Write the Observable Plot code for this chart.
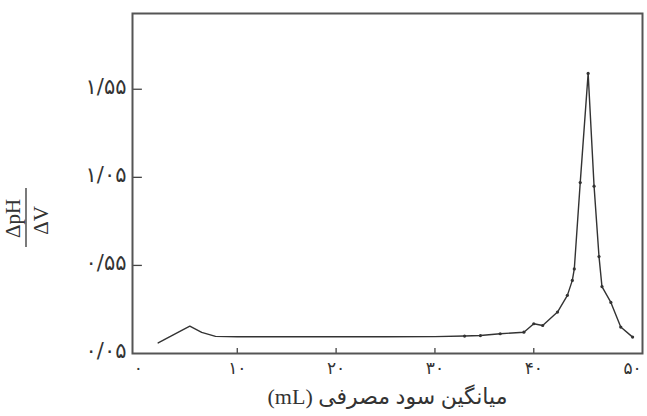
<!DOCTYPE html>
<html><head><meta charset="utf-8">
<script src="https://cdn.jsdelivr.net/npm/d3@7"></script>
<script src="https://cdn.jsdelivr.net/npm/@observablehq/plot@0.6"></script>
<style>body{margin:0;background:#fff}</style>
</head><body><div id="chart"></div>
<script>
const volume = [2.0, 3.0, 4.0, 5.2, 6.4, 7.8, 10, 15, 20, 25, 30, 33, 34.6, 36.6, 39.0, 40.0, 40.9, 42.4, 43.4, 43.9, 44.1, 44.7, 45.5, 46.1, 46.6, 46.9, 47.8, 48.8, 50.0];
const dpHdV = [0.11, 0.14, 0.17, 0.205, 0.17, 0.147, 0.145, 0.145, 0.145, 0.145, 0.146, 0.149, 0.152, 0.162, 0.171, 0.219, 0.209, 0.285, 0.38, 0.465, 0.53, 1.02, 1.64, 1.00, 0.60, 0.43, 0.34, 0.20, 0.143];
const xTicks = [0, 10, 20, 30, 40, 50];
const xTickLabels = ["۰", "۱۰", "۲۰", "۳۰", "۴۰", "۵۰"];
const yTicks = [0.05, 0.55, 1.05, 1.55];
const yTickLabels = ["۰/۰۵", "۰/۵۵", "۱/۰۵", "۱/۵۵"];
const xTitle = "میانگین سود مصرفی (mL)";
const yNum = "ΔpH";
const yDen = "ΔV";

const data = volume.map((v, i) => ({v, d: dpHdV[i]}));
const ink = "#333";

const chart = Plot.plot({
  width: 647, height: 416,
  marginLeft: 132, marginRight: 5, marginTop: 13, marginBottom: 63,
  x: {domain: [-0.6, 51], axis: null},
  y: {domain: [0.05, 1.98], axis: null},
  style: {background: "#fff", color: ink},
  marks: [
    Plot.line(data, {x: "v", y: "d", stroke: ink, strokeWidth: 1.4}),
    Plot.dot(data.filter(d => d.v >= 33), {x: "v", y: "d", r: 1.6, fill: ink}),
    Plot.ruleX(xTicks.slice(1, -1), {y1: 0.05, y2: 0.078, stroke: "#444", strokeWidth: 1.3}),
    Plot.ruleY(yTicks.slice(1), {x1: -0.6, x2: 0.4, stroke: "#444", strokeWidth: 1.3}),
    Plot.text(xTicks, {x: d => d, frameAnchor: "bottom", dy: 20, text: (d, i) => xTickLabels[i],
      fontSize: 17, fontFamily: "DejaVu Sans", fill: ink, letterSpacing: 3}),
    Plot.text(yTicks, {y: d => d, frameAnchor: "left", dx: -6, dy: -2, textAnchor: "end", text: (d, i) => yTickLabels[i],
      fontSize: 21, fontFamily: "DejaVu Sans", fill: ink, letterSpacing: 3}),
    Plot.frame({stroke: "#555", strokeWidth: 2}),
    Plot.text([xTitle], {frameAnchor: "bottom", dy: 50, text: d => "\u202B" + d + "\u202C",
      fontSize: 22, fontFamily: "Liberation Serif, DejaVu Sans", fill: ink}),
    Plot.text([yNum], {frameAnchor: "left", textAnchor: "middle", dx: -119, dy: 35, rotate: -90, text: d => d,
      fontSize: 21, fontFamily: "Liberation Serif", fill: ink}),
    Plot.text([yDen], {frameAnchor: "left", textAnchor: "middle", dx: -91, dy: 37, rotate: -90, text: d => d,
      fontSize: 21, fontFamily: "Liberation Serif", fill: ink})
  ]
});
d3.select(chart).append("line")
  .attr("x1", 26).attr("x2", 26).attr("y1", 188).attr("y2", 247)
  .attr("stroke", ink).attr("stroke-width", 1.3);
document.getElementById("chart").append(chart);
</script>
</body></html>
